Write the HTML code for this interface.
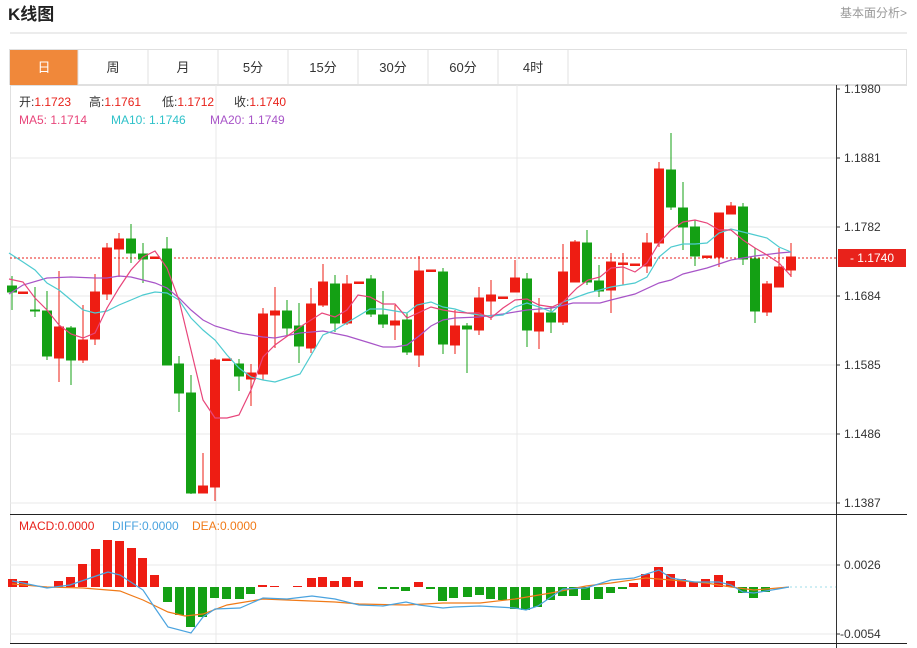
<!DOCTYPE html>
<html><head><meta charset="utf-8"><style>
body{margin:0;background:#fff;width:917px;height:648px;overflow:hidden;font-family:"Liberation Sans","Noto Sans CJK SC",sans-serif;}
svg{position:absolute;left:0;top:0}
</style></head><body>
<svg width="917" height="648" viewBox="0 0 917 648" xmlns="http://www.w3.org/2000/svg" font-family="Liberation Sans, Noto Sans CJK SC, sans-serif">
<text x="8" y="20" font-size="17" font-weight="bold" fill="#222">K线图</text>
<text x="907" y="17" font-size="12" fill="#999" text-anchor="end">基本面分析&gt;</text>
<line x1="10" y1="33" x2="907" y2="33" stroke="#d8d8d8"/>
<rect x="9.5" y="49.5" width="897" height="35" fill="#fff" stroke="#e0e0e0"/>
<rect x="10" y="50" width="68" height="35" fill="#f0883a"/>
<g stroke="#e0e0e0"><line x1="148" y1="50" x2="148" y2="85"/><line x1="218" y1="50" x2="218" y2="85"/><line x1="288" y1="50" x2="288" y2="85"/><line x1="358" y1="50" x2="358" y2="85"/><line x1="428" y1="50" x2="428" y2="85"/><line x1="498" y1="50" x2="498" y2="85"/><line x1="568" y1="50" x2="568" y2="85"/><line x1="78" y1="50" x2="78" y2="85"/></g>
<g font-size="13" fill="#333" text-anchor="middle">
<text x="44" y="72" fill="#fff">日</text><text x="113" y="72">周</text><text x="183" y="72">月</text><text x="253" y="72">5分</text><text x="323" y="72">15分</text><text x="393" y="72">30分</text><text x="463" y="72">60分</text><text x="533" y="72">4时</text>
</g>
<line x1="10" y1="85.5" x2="907" y2="85.5" stroke="#e0e0e0"/>
<line x1="10.5" y1="85" x2="10.5" y2="643" stroke="#e0e0e0"/>
<g stroke="#e8e8e8"><line x1="10" y1="158" x2="836" y2="158"/><line x1="10" y1="227" x2="836" y2="227"/><line x1="10" y1="296" x2="836" y2="296"/><line x1="10" y1="365" x2="836" y2="365"/><line x1="10" y1="434" x2="836" y2="434"/><line x1="10" y1="503" x2="836" y2="503"/>
<line x1="216" y1="85" x2="216" y2="643"/><line x1="517" y1="85" x2="517" y2="643"/>
<line x1="10" y1="565" x2="836" y2="565"/><line x1="10" y1="634" x2="836" y2="634"/></g>
<line x1="836.5" y1="85" x2="836.5" y2="648" stroke="#333"/>
<line x1="10" y1="514.5" x2="907" y2="514.5" stroke="#222"/>
<line x1="10" y1="643.5" x2="907" y2="643.5" stroke="#222"/>
<g font-size="12" fill="#333"><text x="844" y="93">1.1980</text><text x="844" y="162">1.1881</text><text x="844" y="231">1.1782</text><text x="844" y="300">1.1684</text><text x="844" y="369">1.1585</text><text x="844" y="438">1.1486</text><text x="844" y="507">1.1387</text><text x="844" y="569">0.0026</text><text x="840" y="638">-0.0054</text></g>
<g stroke="#333"><line x1="836" y1="89" x2="840" y2="89"/><line x1="836" y1="158" x2="840" y2="158"/><line x1="836" y1="227" x2="840" y2="227"/><line x1="836" y1="296" x2="840" y2="296"/><line x1="836" y1="365" x2="840" y2="365"/><line x1="836" y1="434" x2="840" y2="434"/><line x1="836" y1="503" x2="840" y2="503"/><line x1="836" y1="565" x2="840" y2="565"/><line x1="836" y1="634" x2="840" y2="634"/></g>
<g font-size="12">
<text x="19" y="106" fill="#333">开:<tspan fill="#e8221b">1.1723</tspan></text>
<text x="89" y="106" fill="#333">高:<tspan fill="#e8221b">1.1761</tspan></text>
<text x="162" y="106" fill="#333">低:<tspan fill="#e8221b">1.1712</tspan></text>
<text x="234" y="106" fill="#333">收:<tspan fill="#e8221b">1.1740</tspan></text>
<text x="19" y="124" fill="#e8457a">MA5: 1.1714</text><text x="111" y="124" fill="#2ec1c9">MA10: 1.1746</text><text x="210" y="124" fill="#a855c8">MA20: 1.1749</text>
<text x="19" y="530" fill="#e8221b">MACD:0.0000</text><text x="112" y="530" fill="#4aa3df">DIFF:0.0000</text><text x="192" y="530" fill="#f07a18">DEA:0.0000</text>
</g>
<line x1="10" y1="258" x2="836" y2="258" stroke="#e8221b" stroke-dasharray="2,2"/>
<rect x="838" y="249" width="68" height="18" fill="#e8221b"/>
<text x="872" y="262" font-size="12" fill="#fff" text-anchor="middle">- 1.1740</text>
<g stroke-width="1">
<g stroke="#14a014" fill="#14a014">
<line x1="12" y1="276" x2="12" y2="310"/><rect x="7.5" y="286" width="9" height="6"/>
<line x1="35" y1="287" x2="35" y2="317"/><rect x="30.5" y="310" width="9" height="1"/>
<line x1="47" y1="291" x2="47" y2="360"/><rect x="42.5" y="311" width="9" height="45"/>
<line x1="71" y1="326" x2="71" y2="385"/><rect x="66.5" y="328" width="9" height="32"/>
<line x1="131" y1="224" x2="131" y2="263"/><rect x="126.5" y="239" width="9" height="14"/>
<line x1="143" y1="243" x2="143" y2="283"/><rect x="138.5" y="254" width="9" height="5"/>
<line x1="167" y1="237" x2="167" y2="365"/><rect x="162.5" y="249" width="9" height="116"/>
<line x1="179" y1="356" x2="179" y2="412"/><rect x="174.5" y="364" width="9" height="29"/>
<line x1="191" y1="375" x2="191" y2="494"/><rect x="186.5" y="393" width="9" height="100"/>
<line x1="239" y1="359" x2="239" y2="391"/><rect x="234.5" y="364" width="9" height="12"/>
<line x1="287" y1="300" x2="287" y2="336"/><rect x="282.5" y="311" width="9" height="17"/>
<line x1="299" y1="303" x2="299" y2="363"/><rect x="294.5" y="326" width="9" height="20"/>
<line x1="335" y1="275" x2="335" y2="332"/><rect x="330.5" y="284" width="9" height="39"/>
<line x1="371" y1="275" x2="371" y2="317"/><rect x="366.5" y="279" width="9" height="35"/>
<line x1="383" y1="291" x2="383" y2="328"/><rect x="378.5" y="315" width="9" height="9"/>
<line x1="407" y1="313" x2="407" y2="355"/><rect x="402.5" y="320" width="9" height="32"/>
<line x1="443" y1="268" x2="443" y2="354"/><rect x="438.5" y="272" width="9" height="72"/>
<line x1="467" y1="323" x2="467" y2="373"/><rect x="462.5" y="326" width="9" height="3"/>
<line x1="527" y1="273" x2="527" y2="347"/><rect x="522.5" y="279" width="9" height="51"/>
<line x1="551" y1="306" x2="551" y2="333"/><rect x="546.5" y="313" width="9" height="9"/>
<line x1="587" y1="230" x2="587" y2="285"/><rect x="582.5" y="243" width="9" height="39"/>
<line x1="599" y1="265" x2="599" y2="297"/><rect x="594.5" y="281" width="9" height="10"/>
<line x1="671" y1="133" x2="671" y2="210"/><rect x="666.5" y="170" width="9" height="37"/>
<line x1="683" y1="182" x2="683" y2="250"/><rect x="678.5" y="208" width="9" height="19"/>
<line x1="695" y1="220" x2="695" y2="266"/><rect x="690.5" y="227" width="9" height="29"/>
<line x1="743" y1="203" x2="743" y2="265"/><rect x="738.5" y="207" width="9" height="52"/>
<line x1="755" y1="248" x2="755" y2="323"/><rect x="750.5" y="259" width="9" height="52"/>
</g>
<g stroke="#ee1d13" fill="#ee1d13">
<rect x="18.5" y="292" width="9" height="1.5"/>
<line x1="59" y1="271" x2="59" y2="382"/><rect x="54.5" y="327" width="9" height="31"/>
<line x1="83" y1="305" x2="83" y2="363"/><rect x="78.5" y="340" width="9" height="20"/>
<line x1="95" y1="274" x2="95" y2="345"/><rect x="90.5" y="292" width="9" height="47"/>
<line x1="107" y1="243" x2="107" y2="300"/><rect x="102.5" y="248" width="9" height="46"/>
<line x1="119" y1="233" x2="119" y2="277"/><rect x="114.5" y="239" width="9" height="10"/>
<rect x="150.5" y="257" width="9" height="1.5"/>
<line x1="203" y1="453" x2="203" y2="493"/><rect x="198.5" y="486" width="9" height="7"/>
<line x1="215" y1="358" x2="215" y2="501"/><rect x="210.5" y="360" width="9" height="127"/>
<rect x="222.5" y="359" width="9" height="1.5"/>
<line x1="251" y1="364" x2="251" y2="406"/><rect x="246.5" y="373" width="9" height="6"/>
<line x1="263" y1="308" x2="263" y2="380"/><rect x="258.5" y="314" width="9" height="60"/>
<line x1="275" y1="287" x2="275" y2="348"/><rect x="270.5" y="311" width="9" height="4"/>
<line x1="311" y1="288" x2="311" y2="353"/><rect x="306.5" y="304" width="9" height="44"/>
<line x1="323" y1="264" x2="323" y2="307"/><rect x="318.5" y="282" width="9" height="23"/>
<line x1="347" y1="275" x2="347" y2="325"/><rect x="342.5" y="284" width="9" height="39"/>
<rect x="354.5" y="282" width="9" height="1.5"/>
<line x1="395" y1="305" x2="395" y2="340"/><rect x="390.5" y="321" width="9" height="4"/>
<line x1="419" y1="256" x2="419" y2="367"/><rect x="414.5" y="271" width="9" height="84"/>
<rect x="426.5" y="270" width="9" height="1.5"/>
<line x1="455" y1="310" x2="455" y2="354"/><rect x="450.5" y="326" width="9" height="19"/>
<line x1="479" y1="287" x2="479" y2="335"/><rect x="474.5" y="298" width="9" height="32"/>
<line x1="491" y1="280" x2="491" y2="320"/><rect x="486.5" y="295" width="9" height="6"/>
<rect x="498.5" y="297" width="9" height="1.5"/>
<line x1="515" y1="260" x2="515" y2="292"/><rect x="510.5" y="278" width="9" height="14"/>
<line x1="539" y1="298" x2="539" y2="349"/><rect x="534.5" y="313" width="9" height="18"/>
<line x1="563" y1="244" x2="563" y2="325"/><rect x="558.5" y="272" width="9" height="50"/>
<line x1="575" y1="240" x2="575" y2="282"/><rect x="570.5" y="242" width="9" height="40"/>
<line x1="611" y1="253" x2="611" y2="313"/><rect x="606.5" y="262" width="9" height="28"/>
<line x1="623" y1="253" x2="623" y2="285"/><rect x="618.5" y="263" width="9" height="1.5"/>
<rect x="630.5" y="264" width="9" height="1.5"/>
<line x1="647" y1="233" x2="647" y2="273"/><rect x="642.5" y="243" width="9" height="23"/>
<line x1="659" y1="162" x2="659" y2="247"/><rect x="654.5" y="169" width="9" height="74"/>
<rect x="702.5" y="256" width="9" height="1.5"/>
<line x1="719" y1="213" x2="719" y2="267"/><rect x="714.5" y="213" width="9" height="44"/>
<line x1="731" y1="202" x2="731" y2="214"/><rect x="726.5" y="206" width="9" height="8"/>
<line x1="767" y1="281" x2="767" y2="316"/><rect x="762.5" y="284" width="9" height="28"/>
<line x1="779" y1="248" x2="779" y2="287"/><rect x="774.5" y="267" width="9" height="20"/>
<line x1="791" y1="243" x2="791" y2="277"/><rect x="786.5" y="257" width="9" height="13"/>
</g>
</g>
<g fill="none" stroke-width="1.2">
<polyline stroke="#a855c8" points="9,294 23,285 47,278 71,277 95,278 107,278 119,276 131,277 143,280 155,283 167,288 179,298 191,310 203,320 215,326 239,333 263,337 275,338 300,333 323,331 347,336 370,343 383,347 395,347 407,345 419,336 431,326 443,320 455,318 479,317 503,314 527,310 552,308 573,303 600,303 611,300 635,294 659,283 671,280 683,274 707,268 731,260 755,256 779,253 791,252"/>
<polyline stroke="#4ecbd0" points="9,253 23,262 35,270 47,283 59,290 71,300 83,310 95,313 107,311 119,305 131,300 143,295 155,292 167,293 179,300 191,318 203,330 215,340 227,355 239,368 251,377 263,380 275,382 300,374 323,335 335,330 370,309 383,309 395,311 407,313 417,305 431,302 443,307 455,309 467,313 479,315 491,316 503,315 515,307 527,303 539,307 552,312 563,302 588,293 611,287 635,283 647,277 659,257 671,247 683,244 695,244 707,243 719,233 731,229 743,232 755,235 767,238 779,247 791,252"/>
<polyline stroke="#e8457a" points="9,279 23,282 35,298 47,310 59,325 71,334 83,338 95,333 107,308 119,288 131,270 143,257 155,251 167,268 179,300 191,350 203,400 215,418 227,418 239,415 251,390 263,357 275,345 300,327 322,313 335,317 347,310 358,295 370,297 383,304 395,304 407,318 418,313 431,307 443,310 455,312 467,313 479,313 491,318 503,308 515,300 527,299 539,305 552,307 563,302 577,288 588,280 600,277 611,268 623,267 635,272 647,263 659,243 671,230 683,222 695,220 707,223 719,230 731,230 743,240 755,248 767,255 779,263 791,276"/>
</g>
<line x1="790" y1="587" x2="836" y2="587" stroke="#9fdce8" stroke-dasharray="2,3"/>
<g fill="#ee1d13">
<rect x="8" y="579" width="9" height="8"/><rect x="19" y="581" width="9" height="6"/><rect x="54" y="581" width="9" height="6"/><rect x="66" y="577" width="9" height="10"/><rect x="78" y="564" width="9" height="23"/><rect x="91" y="549" width="9" height="38"/><rect x="103" y="540" width="9" height="47"/><rect x="115" y="541" width="9" height="46"/><rect x="127" y="548" width="9" height="39"/><rect x="138" y="558" width="9" height="29"/><rect x="150" y="575" width="9" height="12"/>
<rect x="258" y="585" width="9" height="2"/><rect x="270" y="586" width="9" height="1"/><rect x="293" y="586" width="9" height="1"/><rect x="307" y="578" width="9" height="9"/><rect x="318" y="577" width="9" height="10"/><rect x="330" y="581" width="9" height="6"/><rect x="342" y="577" width="9" height="10"/><rect x="354" y="581" width="9" height="6"/><rect x="414" y="582" width="9" height="5"/>
<rect x="629" y="583" width="9" height="4"/><rect x="641" y="574" width="9" height="13"/><rect x="654" y="567" width="9" height="20"/><rect x="666" y="574" width="9" height="13"/><rect x="677" y="579" width="9" height="8"/><rect x="689" y="582" width="9" height="5"/><rect x="701" y="579" width="9" height="8"/><rect x="714" y="575" width="9" height="12"/><rect x="726" y="581" width="9" height="6"/>
</g>
<g fill="#14a014">
<rect x="163" y="587" width="9" height="15"/><rect x="175" y="587" width="9" height="28"/><rect x="186" y="587" width="9" height="40"/><rect x="198" y="587" width="9" height="30"/><rect x="210" y="587" width="9" height="11"/><rect x="222" y="587" width="9" height="12"/><rect x="235" y="587" width="9" height="12"/><rect x="246" y="587" width="9" height="7"/>
<rect x="378" y="587" width="9" height="2"/><rect x="390" y="587" width="9" height="2"/><rect x="401" y="587" width="9" height="4"/><rect x="426" y="587" width="9" height="2"/><rect x="438" y="587" width="9" height="14"/><rect x="449" y="587" width="9" height="11"/><rect x="463" y="587" width="9" height="10"/><rect x="475" y="587" width="9" height="8"/><rect x="486" y="587" width="9" height="12"/><rect x="498" y="587" width="9" height="13"/><rect x="510" y="587" width="9" height="22"/><rect x="521" y="587" width="9" height="23"/><rect x="533" y="587" width="9" height="20"/><rect x="546" y="587" width="9" height="13"/><rect x="558" y="587" width="9" height="9"/><rect x="569" y="587" width="9" height="9"/><rect x="581" y="587" width="9" height="13"/><rect x="594" y="587" width="9" height="12"/><rect x="606" y="587" width="9" height="6"/><rect x="618" y="587" width="9" height="2"/>
<rect x="738" y="587" width="9" height="6"/><rect x="749" y="587" width="9" height="11"/><rect x="761" y="587" width="9" height="5"/>
</g>
<g fill="none" stroke-width="1.2">
<polyline stroke="#f07a18" points="12,584 47,587 83,588 120,591 143,600 168,612 185,616 203,614 227,605 263,599 287,600 335,602 359,604 406,605 443,603 480,603 515,599 551,593 586,586 611,583 646,578 671,580 706,583 731,587 754,590 778,588 789,587"/>
<polyline stroke="#4aa3df" points="12,581 23,583 47,588 70,585 96,576 108,572 120,575 143,590 155,608 168,627 191,633 203,617 215,609 240,608 263,598 287,599 312,596 335,599 359,605 383,606 406,602 419,605 443,608 454,607 480,606 515,608 526,610 538,606 551,597 563,589 586,588 611,580 634,578 659,570 671,578 694,582 719,582 731,585 743,592 754,593 778,589 789,587"/>
</g>
</svg>
</body></html>
